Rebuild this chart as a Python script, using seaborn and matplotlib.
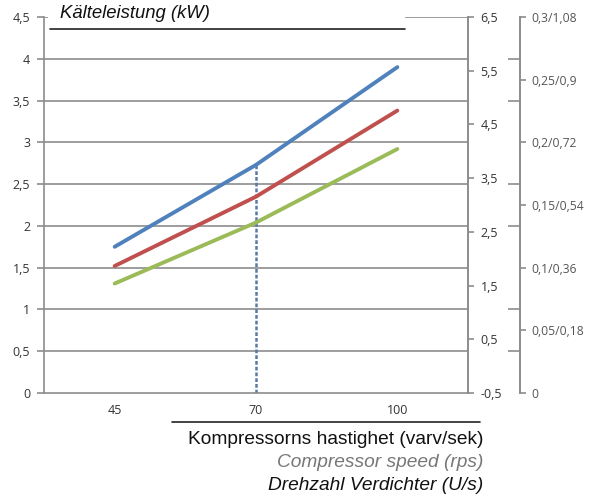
import pandas as pd
import seaborn as sns
import matplotlib.pyplot as plt
from matplotlib.patches import Rectangle
from matplotlib.lines import Line2D

# compressor speed categories (rps)
speeds = ["45", "70", "100"]
# cooling capacity (kW) for three operating points
blue_vals = [1.75, 2.73, 3.90]
red_vals = [1.52, 2.35, 3.38]
green_vals = [1.31, 2.04, 2.92]

left_ticks = [0, 0.5, 1, 1.5, 2, 2.5, 3, 3.5, 4, 4.5]
left_labels = ["0", "0,5", "1", "1,5", "2", "2,5", "3", "3,5", "4", "4,5"]
mid_ticks = [-0.5, 0.5, 1.5, 2.5, 3.5, 4.5, 5.5, 6.5]
mid_labels = ["-0,5", "0,5", "1,5", "2,5", "3,5", "4,5", "5,5", "6,5"]
far_ticks = [0, 0.05, 0.1, 0.15, 0.2, 0.25, 0.3]
far_labels = ["0", "0,05/0,18", "0,1/0,36", "0,15/0,54", "0,2/0,72", "0,25/0,9", "0,3/1,08"]

title = "Kälteleistung (kW)"
xlab1 = "Kompressorns hastighet (varv/sek)"
xlab2 = "Compressor speed (rps)"
xlab3 = "Drehzahl Verdichter (U/s)"

sns.set_style("white")
plt.rcParams['font.family'] = ['Liberation Sans', 'DejaVu Sans']

df = pd.DataFrame({
    "speed": speeds * 3,
    "kw": blue_vals + red_vals + green_vals,
    "serie": ["a"] * 3 + ["b"] * 3 + ["c"] * 3,
})
palette = {"a": "#4F81BD", "b": "#C0504D", "c": "#9BBB59"}

W, H = 594, 498
fig = plt.figure(figsize=(W / 100, H / 100), dpi=100)
ax = fig.add_axes([44 / W, 1 - 393 / H, 424 / W, 376 / H])

gridc = "#8c8c8c"
tickc = "#333333"
tfont = dict(family=['Open Sans', 'DejaVu Sans'], size=9, color=tickc)

for v in left_ticks[1:]:
    ax.axhline(v, color=gridc, lw=1.2, zorder=1)

sns.lineplot(data=df, x="speed", y="kw", hue="serie", palette=palette,
             lw=2.8, sort=False, legend=False, ax=ax, zorder=3)

# dotted guide line at 70 rps up to the blue curve
ax.vlines(1, 0, blue_vals[1], colors="#5a78a8", lw=1.8,
          linestyles=(0, (1.5, 0.8)), zorder=2)

ax.set_xlim(-0.5, 2.5)
ax.set_ylim(0, 4.5)
ax.set_xlabel("")
ax.set_ylabel("")
ax.set_xticks([0, 1, 2])
ax.set_xticklabels(speeds, **tfont)
ax.set_xticks([-0.5, 0.5, 1.5, 2.5], minor=True)
ax.tick_params(axis="x", which="major", length=0, pad=8)
ax.tick_params(axis="x", which="minor", length=5, direction="out", color=gridc, width=1.2)
ax.set_yticks(left_ticks)
ax.set_yticklabels(left_labels, **tfont)
ax.tick_params(axis="y", length=5, direction="out", color=gridc, width=1.2, pad=5)
for s in ["top", "right"]:
    ax.spines[s].set_visible(False)
for s in ["left", "bottom"]:
    ax.spines[s].set_color(gridc)
    ax.spines[s].set_linewidth(1.2)

# first right axis
ax2 = ax.twinx()
ax2.set_ylim(-0.5, 6.5)
ax2.set_yticks(mid_ticks)
ax2.set_yticklabels(mid_labels, **tfont)
ax2.tick_params(axis="y", length=4, direction="out", color=gridc, width=1.2, pad=5)
for s in ["top", "left", "bottom"]:
    ax2.spines[s].set_visible(False)
ax2.spines["right"].set_color(gridc)
ax2.spines["right"].set_linewidth(1.4)

# second right axis
ax3 = ax.twinx()
ax3.spines["right"].set_position(("axes", (520 - 44) / 424))
ax3.set_ylim(0, 0.3)
ax3.set_yticks(far_ticks)
ax3.set_yticklabels(far_labels, family=['Open Sans', 'DejaVu Sans'], size=8.7, color="#555555")
ax3.tick_params(axis="y", length=4, direction="out", color=gridc, width=1.2, pad=4)
ax3.set_yticks([v / 15 for v in [0.5, 1, 2, 2.5, 3.5, 4]], minor=True)
ax3.tick_params(axis="y", which="minor", length=9, direction="in", color=gridc, width=1.2)
for s in ["top", "left", "bottom"]:
    ax3.spines[s].set_visible(False)
ax3.spines["right"].set_color(gridc)
ax3.spines["right"].set_linewidth(1.4)

# title box covering the top grid line
fig.patches.append(Rectangle((48 / W, 1 - 28 / H), (405 - 48) / W, 28 / H,
                             transform=fig.transFigure, facecolor="white",
                             edgecolor="none", zorder=5))
fig.lines.append(Line2D([50 / W, 405 / W], [1 - 29 / H, 1 - 29 / H],
                        transform=fig.transFigure, color="#222222", lw=1.2, zorder=6))
fig.text(60 / W, 1 - 13 / H, title, ha="left", va="center", fontsize=13.3,
         style="italic", color="#111111", zorder=7)

# x axis captions
fig.lines.append(Line2D([172 / W, 480 / W], [1 - 422 / H, 1 - 422 / H],
                        transform=fig.transFigure, color="#222222", lw=1.2))
fig.text(483 / W, 1 - 439 / H, xlab1, ha="right", va="center", fontsize=13.8, color="#111111")
fig.text(483 / W, 1 - 462 / H, xlab2, ha="right", va="center", fontsize=13.8,
         style="italic", color="#777777")
fig.text(483 / W, 1 - 485 / H, xlab3, ha="right", va="center", fontsize=13.8,
         style="italic", color="#111111")

fig.savefig("out.png", dpi=100)
